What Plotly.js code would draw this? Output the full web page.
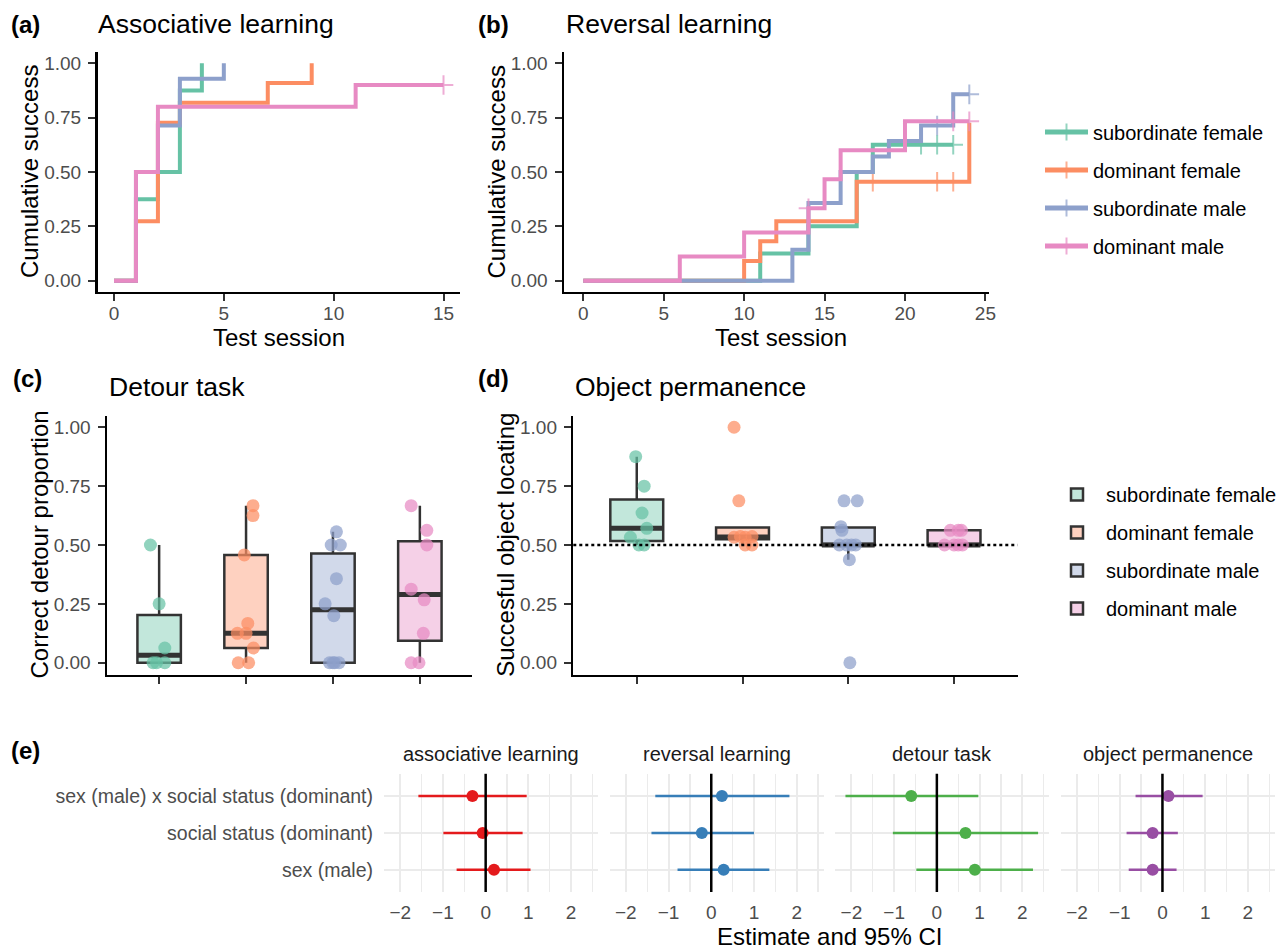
<!DOCTYPE html>
<html><head><meta charset="utf-8">
<script src="https://cdn.plot.ly/plotly-3.0.1.min.js"></script>
<style>html,body{margin:0;padding:0;background:#fff;}#chart{width:1285px;height:950px;}</style>
</head><body><div id="chart"></div>
<script>
// ---------------- DATA ----------------
const groupNames = ['subordinate female', 'dominant female', 'subordinate male', 'dominant male'];

// (a) Associative learning: test session, cumulative success, censored (1) or not (0)
const assocSfT = [0, 1, 2, 3, 4];          const assocSfY = [0, 0.375, 0.5, 0.875, 1.0];          const assocSfC = [0, 0, 0, 0, 0];
const assocDfT = [0, 1, 2, 3, 7, 9];       const assocDfY = [0, 0.273, 0.727, 0.818, 0.909, 1.0]; const assocDfC = [0, 0, 0, 0, 0, 0];
const assocSmT = [0, 1, 2, 3, 5];          const assocSmY = [0, 0.5, 0.714, 0.929, 1.0];          const assocSmC = [0, 0, 0, 0, 0];
const assocDmT = [0, 1, 2, 11, 15];        const assocDmY = [0, 0.5, 0.8, 0.9, 0.9];              const assocDmC = [0, 0, 0, 0, 1];

// (b) Reversal learning
const revSfT = [0, 11, 14, 17, 18, 21, 22, 23];
const revSfY = [0, 0.125, 0.25, 0.5, 0.625, 0.625, 0.625, 0.625];
const revSfC = [0, 0, 0, 0, 0, 1, 1, 1];
const revDfT = [0, 10, 11, 12, 17, 18, 22, 23, 24];
const revDfY = [0, 0.091, 0.182, 0.273, 0.455, 0.455, 0.455, 0.455, 0.727];
const revDfC = [0, 0, 0, 0, 0, 1, 1, 1, 0];
const revSmT = [0, 13, 14, 16, 18, 19, 21, 22, 23, 24];
const revSmY = [0, 0.143, 0.357, 0.5, 0.571, 0.643, 0.714, 0.714, 0.857, 0.857];
const revSmC = [0, 0, 0, 0, 0, 0, 0, 1, 0, 1];
const revDmT = [0, 6, 10, 14, 15, 16, 20, 23, 24];
const revDmY = [0, 0.111, 0.222, 0.333, 0.467, 0.6, 0.733, 0.733, 0.733];
const revDmC = [0, 0, 0, 1, 0, 0, 0, 1, 1];

// (c) Detour task: correct detour proportion per individual, and horizontal jitter
const detourSf = [0, 0, 0, 0.0625, 0.25, 0.5];
const detourSfJit = [-0.07, -0.03, 0.065, 0.065, 0, -0.10];
const detourDf = [0, 0, 0.0625, 0.125, 0.125, 0.167, 0.458, 0.625, 0.667];
const detourDfJit = [-0.09, 0.03, 0.085, -0.10, 0, 0.02, -0.02, 0.08, 0.08];
const detourSm = [0, 0, 0, 0, 0.2, 0.25, 0.357, 0.5, 0.5, 0.556];
const detourSmJit = [-0.04, 0.02, 0.07, 0.0, 0.01, -0.09, 0.04, -0.02, 0.085, 0.04];
const detourDm = [0, 0, 0.125, 0.267, 0.3125, 0.5, 0.5625, 0.667];
const detourDmJit = [-0.10, -0.01, 0.04, 0.05, -0.10, 0.08, 0.08, -0.10];

// (d) Object permanence: successful object locating
const objSf = [0.5, 0.5, 0.533, 0.571, 0.636, 0.75, 0.875];
const objSfJit = [0.02, 0.07, -0.06, 0.095, 0.05, 0.07, -0.01];
const objDf = [0.5, 0.5, 0.533, 0.533, 0.536, 0.536, 0.6875, 1.0];
const objDfJit = [0.025, 0.09, -0.08, 0.025, -0.02, 0.09, -0.035, -0.08];
const objSm = [0, 0.4375, 0.5, 0.5, 0.5, 0.5, 0.5625, 0.578, 0.6875, 0.6875];
const objSmJit = [0.015, 0.01, -0.085, -0.015, 0.07, 0.03, -0.06, -0.07, -0.04, 0.085];
const objDm = [0.5, 0.5, 0.5, 0.5, 0.5625, 0.5625, 0.5625];
const objDmJit = [-0.09, 0, 0.08, 0.04, -0.035, 0.07, 0.04];
const chanceLevel = 0.5;

// (e) Model estimates and 95% CI
const terms = ['sex (male) x social status (dominant)', 'social status (dominant)', 'sex (male)'];
const facetNames = ['associative learning', 'reversal learning', 'detour task', 'object permanence'];
const assocEst = [-0.31, -0.07, 0.195];  const assocLo = [-1.575, -0.99, -0.68]; const assocHi = [0.96, 0.865, 1.05];
const revEst   = [0.25, -0.22, 0.29];    const revLo   = [-1.31, -1.40, -0.79];  const revHi   = [1.83, 1.0, 1.36];
const detEst   = [-0.60, 0.67, 0.89];    const detLo   = [-2.14, -1.03, -0.48];  const detHi   = [0.97, 2.37, 2.25];
const objEst   = [0.14, -0.23, -0.23];   const objLo   = [-0.63, -0.84, -0.79];  const objHi   = [0.94, 0.36, 0.33];

// ---------------- STYLE / LAYOUT ----------------
const W = 1285, H = 950;
const FONT = 'Liberation Sans, Arial, Helvetica, sans-serif';
const cols = ['#66C2A5', '#FC8D62', '#8DA0CB', '#E78AC3'];
const rgba = (hex, a) => {
  const n = parseInt(hex.slice(1), 16);
  return `rgba(${n >> 16},${(n >> 8) & 255},${n & 255},${a})`;
};
const fx = (a, b) => [a / W, b / W];
const fy = (top, bottom) => [1 - bottom / H, 1 - top / H];

const traces = [];

function stepTrace(T, Y, C, k, xa, ya, showlegend) {
  return {
    type: 'scatter', mode: 'lines+markers', x: T, y: Y,
    xaxis: xa, yaxis: ya, name: groupNames[k],
    legend: 'legend', legendgroup: 'g' + k, showlegend: showlegend,
    line: { shape: 'hv', color: cols[k], width: 4 },
    marker: { symbol: 'cross-thin-open', size: C.map(c => c ? 14 : 0), color: cols[k], line: { color: cols[k], width: 2 } },
    hoverinfo: 'skip'
  };
}
const assocSeries = [[assocSfT, assocSfY, assocSfC], [assocDfT, assocDfY, assocDfC], [assocSmT, assocSmY, assocSmC], [assocDmT, assocDmY, assocDmC]];
const revSeries = [[revSfT, revSfY, revSfC], [revDfT, revDfY, revDfC], [revSmT, revSmY, revSmC], [revDmT, revDmY, revDmC]];
assocSeries.forEach((s, k) => traces.push(stepTrace(s[0], s[1], s[2], k, 'x', 'y', false)));
revSeries.forEach((s, k) => traces.push(stepTrace(s[0], s[1], s[2], k, 'x2', 'y2', true)));

// box statistics (R type-7 quantiles, 1.5 IQR whiskers like ggplot2)
function quant(sorted, p) {
  const h = (sorted.length - 1) * p, lo = Math.floor(h), hi = Math.ceil(h);
  return sorted[lo] + (h - lo) * (sorted[hi] - sorted[lo]);
}
function boxStats(vals) {
  const s = vals.slice().sort((a, b) => a - b);
  const q1 = quant(s, 0.25), med = quant(s, 0.5), q3 = quant(s, 0.75), iqr = q3 - q1;
  const inside = s.filter(v => v >= q1 - 1.5 * iqr && v <= q3 + 1.5 * iqr);
  return { q1, med, q3, lf: Math.min(Math.min(...inside), q1), uf: Math.max(Math.max(...inside), q3) };
}
function boxPanel(sets, jits, xa, ya, legendOn) {
  const boxes = [], meds = [], pts = [];
  sets.forEach((vals, k) => {
    const st = boxStats(vals), pos = k + 1;
    boxes.push({
      type: 'box', orientation: 'v', x: [pos], q1: [st.q1], median: [st.med], q3: [st.q3],
      lowerfence: [st.lf], upperfence: [st.uf], width: 0.5, whiskerwidth: 0, boxpoints: false,
      fillcolor: rgba(cols[k], 0.4), line: { color: '#333333', width: 2.5 },
      xaxis: xa, yaxis: ya, name: groupNames[k], showlegend: legendOn,
      legend: 'legend2', legendgroup: 'b' + k, hoverinfo: 'skip'
    });
    meds.push({
      type: 'scatter', mode: 'lines', x: [pos - 0.25, pos + 0.25], y: [st.med, st.med],
      line: { color: '#333333', width: 5 }, xaxis: xa, yaxis: ya, showlegend: false, hoverinfo: 'skip'
    });
    pts.push({
      type: 'scatter', mode: 'markers', x: vals.map((v, i) => pos + jits[k][i]), y: vals,
      marker: { size: 13, color: rgba(cols[k], 0.72) }, xaxis: xa, yaxis: ya, showlegend: false, hoverinfo: 'skip'
    });
  });
  traces.push(...boxes, ...meds, ...pts);
}
boxPanel([detourSf, detourDf, detourSm, detourDm], [detourSfJit, detourDfJit, detourSmJit, detourDmJit], 'x3', 'y3', false);
boxPanel([objSf, objDf, objSm, objDm], [objSfJit, objDfJit, objSmJit, objDmJit], 'x4', 'y4', true);

// (e) coefficient plots
const eCols = ['#E41A1C', '#377EB8', '#4DAF4A', '#984EA3'];
const eSets = [[assocEst, assocLo, assocHi], [revEst, revLo, revHi], [detEst, detLo, detHi], [objEst, objLo, objHi]];
eSets.forEach((s, f) => {
  traces.push({
    type: 'scatter', mode: 'markers', x: s[0], y: terms,
    xaxis: 'x' + (5 + f), yaxis: 'y5', showlegend: false, hoverinfo: 'skip',
    marker: { size: 12, color: eCols[f] },
    error_x: { type: 'data', symmetric: false, array: s[0].map((v, i) => s[2][i] - v),
               arrayminus: s[0].map((v, i) => v - s[1][i]), width: 0, thickness: 2.5, color: eCols[f] }
  });
});

// axes
const classic = {
  showline: true, linecolor: 'black', linewidth: 2.5, ticks: 'outside', ticklen: 7, tickwidth: 2,
  tickcolor: '#333333', showgrid: false, zeroline: false, fixedrange: true,
  tickfont: { family: FONT, size: 19, color: '#4D4D4D' }
};
const probY = Object.assign({}, classic, { range: [-0.05, 1.05], tickvals: [0, 0.25, 0.5, 0.75, 1], tickformat: '.2f', ticklabelstandoff: 3 });
const catX = Object.assign({}, classic, { range: [0.4, 4.6], tickvals: [1, 2, 3, 4], showticklabels: false });
const eX = {
  range: [-2.38, 2.63], dtick: 1, tick0: 0, showline: false, ticks: '', zeroline: false, fixedrange: true,
  showgrid: true, gridcolor: '#EBEBEB', gridwidth: 2,
  minor: { dtick: 0.5, showgrid: true, gridcolor: '#EBEBEB', gridwidth: 1.3 },
  tickfont: { family: FONT, size: 19, color: '#4D4D4D' }, ticklabelstandoff: 7
};
const eLefts = [384, 609.6, 835.2, 1060.8];

const layout = {
  width: W, height: H, margin: { l: 0, r: 0, t: 0, b: 0 },
  paper_bgcolor: 'white', plot_bgcolor: 'white', hovermode: false, boxmode: 'overlay',
  font: { family: FONT, color: 'black' },
  xaxis: Object.assign({}, classic, { domain: fx(97.5, 460), range: [-0.75, 15.75], tickvals: [0, 5, 10, 15], anchor: 'y', ticklabelstandoff: -4 }),
  yaxis: Object.assign({}, probY, { domain: fy(52.4, 291.6), anchor: 'x' }),
  xaxis2: Object.assign({}, classic, { domain: fx(564, 988.6), range: [-1.2, 25.2], tickvals: [0, 5, 10, 15, 20, 25], anchor: 'y2', ticklabelstandoff: -4 }),
  yaxis2: Object.assign({}, probY, { domain: fy(52.4, 291.6), anchor: 'x2' }),
  xaxis3: Object.assign({}, catX, { domain: fx(107, 472), anchor: 'y3' }),
  yaxis3: Object.assign({}, probY, { domain: fy(415.5, 674.5), anchor: 'x3' }),
  xaxis4: Object.assign({}, catX, { domain: fx(573.3, 1017.5), anchor: 'y4' }),
  yaxis4: Object.assign({}, probY, { domain: fy(415.5, 674.5), anchor: 'x4' }),
  yaxis5: {
    domain: fy(773.8, 892), anchor: 'x5', type: 'category',
    categoryorder: 'array', categoryarray: terms.slice().reverse(), range: [-0.6, 2.6],
    showline: false, ticks: '', zeroline: false, fixedrange: true,
    showgrid: true, gridcolor: '#EBEBEB', gridwidth: 2,
    tickfont: { family: FONT, size: 19.5, color: '#4D4D4D' }, ticklabelstandoff: 10
  },
  legend: {
    x: 1040 / W, y: 1 - 112.5 / H, xanchor: 'left', yanchor: 'top', bgcolor: 'rgba(0,0,0,0)', itemwidth: 43,
    font: { family: FONT, size: 20, color: 'black' }, tracegroupgap: 9, itemsizing: 'constant', itemclick: false, itemdoubleclick: false
  },
  legend2: {
    x: 1048 / W, y: 1 - 475 / H, xanchor: 'left', yanchor: 'top', bgcolor: 'rgba(0,0,0,0)', itemwidth: 48,
    font: { family: FONT, size: 20, color: 'black' }, tracegroupgap: 9, itemclick: false, itemdoubleclick: false
  },
  shapes: [],
  annotations: []
};
eLefts.forEach((l, f) => {
  layout['xaxis' + (5 + f)] = Object.assign({}, eX, { domain: fx(l, l + 214), anchor: 'y5' });
  layout.shapes.push({ type: 'line', xref: 'x' + (5 + f), yref: 'y5 domain', x0: 0, x1: 0, y0: 0, y1: 1,
    line: { color: 'black', width: 2.5 }, layer: 'above' });
  layout.annotations.push({ text: facetNames[f], xref: 'paper', yref: 'paper', x: (l + 107) / W, y: 1 - 754 / H,
    xanchor: 'center', yanchor: 'middle', showarrow: false, font: { family: FONT, size: 20, color: '#1A1A1A' } });
});
layout.shapes.push({ type: 'line', xref: 'x4 domain', yref: 'y4', x0: 0, x1: 1, y0: chanceLevel, y1: chanceLevel,
  line: { color: 'black', width: 2.5, dash: 'dot' }, layer: 'above' });

function txt(text, xpx, ypx, size, opts) {
  return Object.assign({ text, xref: 'paper', yref: 'paper', x: xpx / W, y: 1 - ypx / H, showarrow: false,
    xanchor: 'left', yanchor: 'middle', font: { family: FONT, size, color: 'black' } }, opts || {});
}
layout.annotations.push(
  txt('<b>(a)</b>', 9, 25, 24), txt('Associative learning', 96, 24.4, 26.5),
  txt('<b>(b)</b>', 476, 25, 24), txt('Reversal learning', 564, 24.4, 26.5),
  txt('<b>(c)</b>', 10.5, 378.4, 24), txt('Detour task', 107, 387.1, 26.5),
  txt('<b>(d)</b>', 476, 378.4, 24), txt('Object permanence', 573, 387.1, 26.5),
  txt('<b>(e)</b>', 9, 750, 24),
  txt('Cumulative success', 29, 172, 24, { xanchor: 'center', textangle: -90 }),
  txt('Cumulative success', 495.5, 172, 24, { xanchor: 'center', textangle: -90 }),
  txt('Test session', 278.7, 337.5, 24, { xanchor: 'center' }),
  txt('Test session', 781, 337.5, 24, { xanchor: 'center' }),
  txt('Correct detour proportion', 38.5, 545, 24, { xanchor: 'center', textangle: -90 }),
  txt('Succesful object locating', 504.8, 545, 24, { xanchor: 'center', textangle: -90 }),
  txt('Estimate and 95% CI', 829.5, 936.6, 24, { xanchor: 'center' })
);

Plotly.newPlot('chart', traces, layout, { staticPlot: true, displayModeBar: false });
</script>
</body></html>
